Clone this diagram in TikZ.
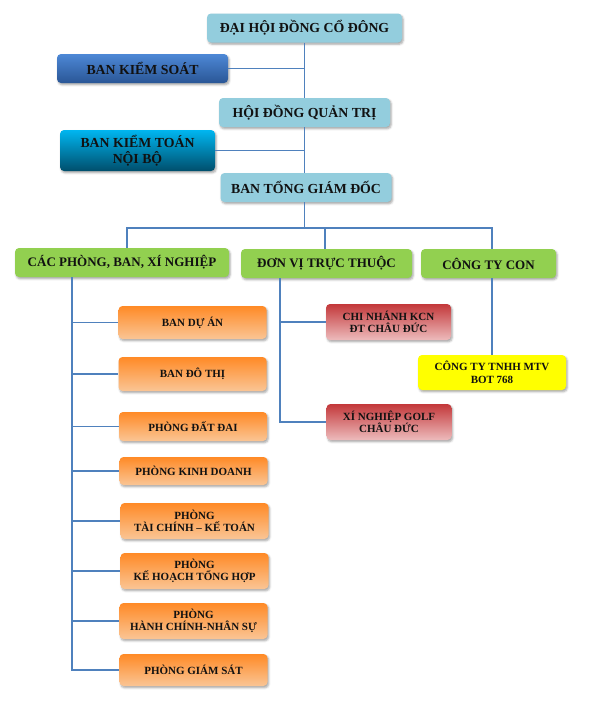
\documentclass[tikz,border=0pt]{standalone}
\usepackage{fontspec,xcolor,tikz}
\usetikzlibrary{shadows.blur}
\setmainfont{Liberation Serif}
\definecolor{ink}{HTML}{111111}
\definecolor{nen}{HTML}{93CDDD}
\definecolor{ksa}{HTML}{4D88D6}
\definecolor{ksb}{HTML}{2A5696}
\definecolor{kta}{HTML}{00B6F0}
\definecolor{ktb}{HTML}{004E6C}
\definecolor{xanhla}{HTML}{92D050}
\definecolor{cama}{HTML}{FF8A26}
\definecolor{camb}{HTML}{FAC595}
\definecolor{doa}{HTML}{C3383A}
\definecolor{dob}{HTML}{EDBBBC}
\definecolor{vang}{HTML}{FFFF00}
\definecolor{day}{HTML}{4F81BD}
\newcommand{\nhan}{\fontsize{13.8}{16}\selectfont\bfseries}
\newcommand{\nhom}{\fontsize{13}{15}\selectfont\bfseries}
\newcommand{\nho}{\fontsize{11}{12.5}\selectfont\bfseries}

\begin{document}
\begin{tikzpicture}[x=1pt,y=-1pt,
  hop/.style={rectangle,rounded corners=4pt,align=center,inner sep=2pt,text=ink,
    blur shadow={shadow xshift=1.2pt,shadow yshift=-1.8pt,shadow opacity=35,shadow blur radius=2pt}},
  chinh/.style={hop,fill=nen,font=\nhan,minimum height=29pt},
  kiemsoat/.style={hop,top color=ksa,bottom color=ksb,font=\nhan,minimum height=29pt},
  kiemtoan/.style={hop,top color=kta,middle color=kta!55!ktb,bottom color=ktb,font=\nhan,minimum height=41pt},
  nhom/.style={hop,fill=xanhla,font=\nhom,minimum height=29pt},
  phong/.style={hop,top color=cama,bottom color=camb,font=\nho,minimum width=148pt,minimum height=32pt},
  donvi/.style={hop,top color=doa,bottom color=dob,font=\nho,minimum width=125pt,minimum height=36pt},
  congty/.style={hop,fill=vang,font=\nho,minimum width=148pt,minimum height=35pt},
  noi/.style={day,line width=1.3pt}]
\useasboundingbox (0,0) rectangle (600,720);
% cap lanh dao
\node[chinh,minimum width=195pt] (dhcd) at (304.5,28) {ĐẠI HỘI ĐỒNG CỔ ĐÔNG};
\node[kiemsoat,minimum width=171pt] (bks) at (142.5,68.5) {BAN KIỂM SOÁT};
\node[chinh,minimum width=171pt] (hdqt) at (304.5,112.5) {HỘI ĐỒNG QUẢN TRỊ};
\node[kiemtoan,minimum width=155pt] (bkt) at (137.5,150.5) {BAN KIỂM TOÁN\\NỘI BỘ};
\node[chinh,minimum width=171pt] (btgd) at (306,187.5) {BAN TỔNG GIÁM ĐỐC};
% ba nhom
\node[nhom,minimum width=214pt] (cp) at (122,262.5) {CÁC PHÒNG, BAN, XÍ NGHIỆP};
\node[nhom,minimum width=171pt] (dv) at (326.5,263.5) {ĐƠN VỊ TRỰC THUỘC};
\node[nhom,minimum width=135pt] (ctc) at (488.5,263.5) {CÔNG TY CON};
% cac phong
\node[phong,minimum height=33pt] (bda) at (192.5,322.5) {BAN DỰ ÁN};
\node[phong,minimum height=34pt] (bdt) at (192.5,374) {BAN ĐÔ THỊ};
\node[phong,minimum height=29pt] (pdd) at (193,426.5) {PHÒNG ĐẤT ĐAI};
\node[phong,minimum height=28pt] (pkd) at (193.5,471) {PHÒNG KINH DOANH};
\node[phong,minimum height=36pt] (ptc) at (194.5,521) {PHÒNG\\TÀI CHÍNH – KẾ TOÁN};
\node[phong,minimum height=36pt] (pkh) at (194.5,571) {PHÒNG\\KẾ HOẠCH TỔNG HỢP};
\node[phong,minimum height=36pt] (phc) at (193.5,621) {PHÒNG\\HÀNH CHÍNH-NHÂN SỰ};
\node[phong] (pgs) at (193.5,670) {PHÒNG GIÁM SÁT};
% don vi truc thuoc, cong ty con
\node[donvi] (cn) at (388.5,322) {CHI NHÁNH KCN\\ĐT CHÂU ĐỨC};
\node[donvi] (xn) at (389,422) {XÍ NGHIỆP GOLF\\CHÂU ĐỨC};
\node[congty] (ty) at (492,372.5) {CÔNG TY TNHH MTV\\BOT 768};
% duong noi
\coordinate (busl) at (127,228);
\coordinate (busr) at (492,228);
\coordinate (cpx) at (72,0);
\coordinate (dvx) at (280,0);
\draw[noi] (dhcd.south) -- (hdqt.north);
\draw[noi] (hdqt.south) -- (hdqt.south |- btgd.north);
\draw[noi] (bks.east) -- (bks.east -| dhcd.south);
\draw[noi] (bkt.east) -- (bkt.east -| hdqt.south);
\draw[noi] (hdqt.south |- btgd.south) -- (hdqt.south |- busl);
\draw[noi] (busl |- cp.north) -- (busl) -- (busr) -- (busr |- ctc.north);
\draw[noi] (dv.north -| 325,0) -- (busl -| 325,0);
\draw[noi] (cpx |- cp.south) |- (pgs.west);
\foreach \n in {bda,bdt,pdd,pkd,ptc,pkh,phc} \draw[noi] (cpx |- \n.west) -- (\n.west);
\draw[noi] (dvx |- dv.south) |- (xn.west);
\draw[noi] (dvx |- cn.west) -- (cn.west);
\draw[noi] (ty.north |- ctc.south) -- (ty.north);
\end{tikzpicture}
\end{document}
